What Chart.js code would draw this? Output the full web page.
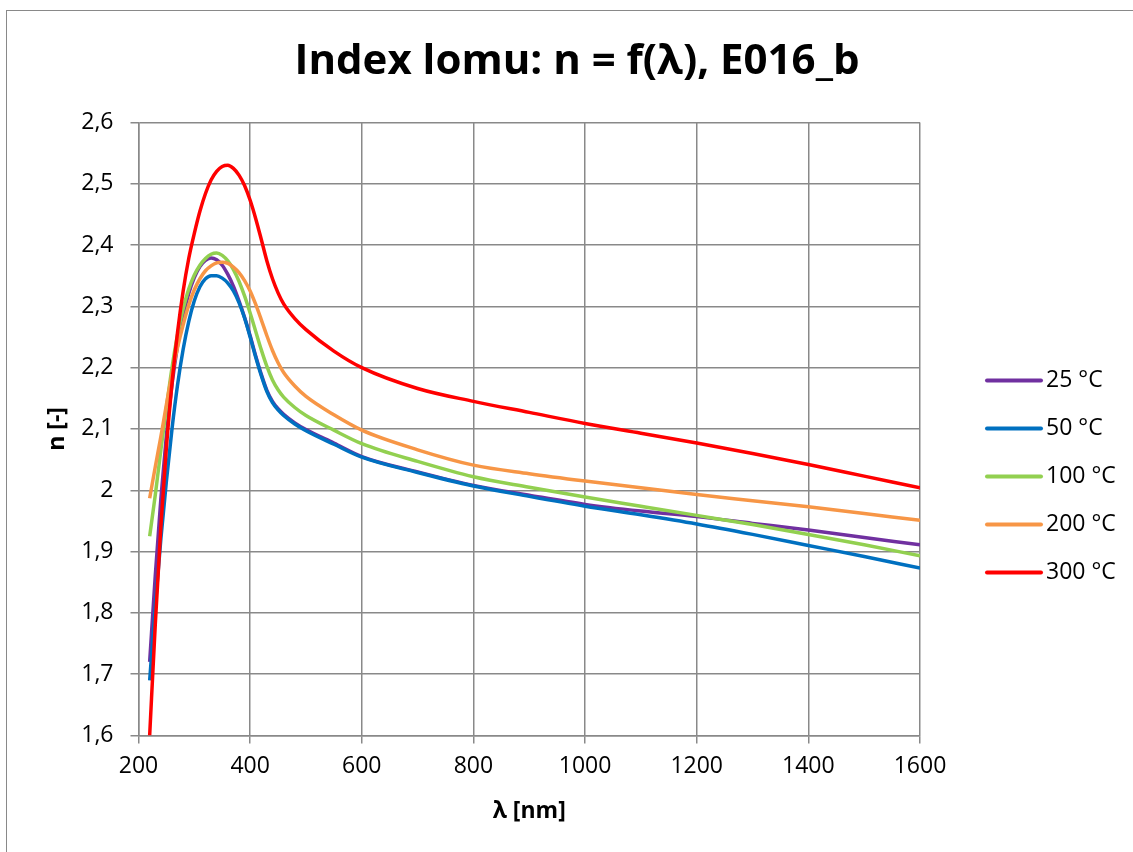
<!DOCTYPE html>
<html lang="cs">
<head>
<meta charset="UTF-8" />
<title>Index lomu</title>
<script src="https://cdn.jsdelivr.net/npm/chart.js"></script>
<style>
  html, body {
    margin: 0;
    padding: 0;
    background: #fff;
    overflow: hidden;
  }
  #frame {
    position: absolute;
    left: 6px;
    top: 10px;
    width: 1140px;
    height: 850px;
    border-left: 1px solid #898989;
    border-top: 1px solid #898989;
  }
  #chart { display: block; }
</style>
</head>
<body>

<div id="frame"><canvas id="chart" width="1140" height="841"></canvas></div>

<script>
// wavelength in nm, shared by all series
var wavelengths = [220, 230, 240, 250, 260, 270, 280, 290, 300, 310,
                   320, 330, 340, 350, 360, 370, 380, 390, 400, 410,
                   420, 430, 440, 450, 460, 480, 500, 550, 600, 700,
                   800, 900, 1000, 1100, 1200, 1300, 1400, 1500, 1600];

var seriesLabels = ["25 °C", "50 °C", "100 °C", "200 °C", "300 °C"];

var n25 = [1.72, 1.86, 1.985, 2.09, 2.172, 2.236, 2.285, 2.321, 2.347, 2.365,
           2.375, 2.379, 2.376, 2.367, 2.352, 2.333, 2.309, 2.282, 2.252, 2.219,
           2.189, 2.163, 2.145, 2.133, 2.124, 2.110, 2.099, 2.077, 2.055, 2.030,
           2.008, 1.992, 1.977, 1.966, 1.957, 1.946, 1.935, 1.923, 1.911];

var n50 = [1.69, 1.81, 1.92, 2.015, 2.10, 2.172, 2.230, 2.275, 2.309, 2.332,
           2.345, 2.350, 2.350, 2.346, 2.338, 2.325, 2.306, 2.281, 2.250, 2.217,
           2.187, 2.161, 2.143, 2.131, 2.122, 2.108, 2.097, 2.075, 2.054, 2.029,
           2.007, 1.990, 1.974, 1.960, 1.945, 1.928, 1.910, 1.892, 1.873];

var n100 = [1.925, 1.992, 2.065, 2.135, 2.200, 2.254, 2.296, 2.328, 2.351, 2.367,
            2.378, 2.385, 2.387, 2.383, 2.374, 2.360, 2.341, 2.317, 2.289, 2.259,
            2.229, 2.202, 2.180, 2.164, 2.152, 2.135, 2.122, 2.098, 2.076, 2.047,
            2.022, 2.005, 1.989, 1.974, 1.959, 1.944, 1.928, 1.911, 1.893];

var n200 = [1.987, 2.038, 2.087, 2.140, 2.190, 2.233, 2.270, 2.302, 2.327, 2.345,
            2.358, 2.366, 2.371, 2.372, 2.370, 2.364, 2.355, 2.342, 2.325, 2.303,
            2.278, 2.252, 2.228, 2.208, 2.192, 2.170, 2.153, 2.123, 2.098, 2.066,
            2.041, 2.027, 2.015, 2.004, 1.993, 1.983, 1.973, 1.962, 1.951];

var n300 = [1.60, 1.78, 1.94, 2.07, 2.175, 2.258, 2.325, 2.378, 2.419, 2.455,
            2.484, 2.506, 2.520, 2.528, 2.530, 2.525, 2.514, 2.497, 2.473, 2.443,
            2.409, 2.374, 2.345, 2.322, 2.304, 2.280, 2.262, 2.227, 2.200, 2.166,
            2.145, 2.127, 2.109, 2.093, 2.077, 2.060, 2.042, 2.023, 2.004];

var seriesColors = ["#7030A0", "#0070C0", "#92D050", "#F79646", "#FF0000"];

var xTickLabels = ["200", "400", "600", "800", "1000", "1200", "1400", "1600"];
var yTickLabels = ["1,6", "1,7", "1,8", "1,9", "2", "2,1", "2,2", "2,3", "2,4", "2,5", "2,6"];

function points(values) {
  return wavelengths.map(function (w, i) { return { x: w, y: values[i] }; });
}

var allSeries = [n25, n50, n100, n200, n300];

var datasets = allSeries.map(function (vals, i) {
  return {
    label: seriesLabels[i],
    data: points(vals),
    borderColor: seriesColors[i],
    backgroundColor: seriesColors[i],
    borderWidth: 3.5,
    pointRadius: 0,
    cubicInterpolationMode: "monotone",
    order: allSeries.length - 1 - i   // last series drawn on top, like Excel
  };
});

// legend drawn on the right, one line + text per series
var sideLegend = {
  id: "sideLegend",
  afterDraw: function (chart) {
    var ctx = chart.ctx;
    var area = chart.chartArea;
    var x0 = area.right + 67;
    var y0 = area.top + 258;
    ctx.save();
    ctx.font = "23px 'Open Sans'";
    ctx.textBaseline = "middle";
    ctx.fillStyle = "#000";
    chart.data.datasets.forEach(function (ds, i) {
      var y = y0 + i * 48;
      ctx.strokeStyle = ds.borderColor;
      ctx.lineWidth = 4;
      ctx.lineCap = "round";
      ctx.beginPath();
      ctx.moveTo(x0, y);
      ctx.lineTo(x0 + 54, y);
      ctx.stroke();
      ctx.fillText(ds.label, x0 + 59, y);
    });
    ctx.restore();
  }
};

Chart.defaults.font.family = "'Open Sans', sans-serif";
Chart.defaults.color = "#000";

var gridColor = "#898989";

new Chart(document.getElementById("chart"), {
  type: "line",
  data: { datasets: datasets },
  plugins: [sideLegend],
  options: {
    responsive: false,
    animation: false,
    layout: { padding: 0 },
    plugins: {
      legend: { display: false },
      tooltip: { enabled: false },
      title: {
        display: true,
        text: "Index lomu: n = f(λ), E016_b",
        font: { size: 42, weight: "bold" },
        color: "#000",
        padding: { top: 26, bottom: 35 }
      }
    },
    scales: {
      x: {
        type: "linear",
        min: 200,
        max: 1600,
        ticks: {
          stepSize: 200,
          font: { size: 23 },
          padding: 9,
          maxRotation: 0,
          callback: function (v, i) {
            return xTickLabels[i] !== undefined ? xTickLabels[i] : String(v);
          }
        },
        grid: { color: gridColor, lineWidth: 1.5, tickLength: 8 },
        border: { color: gridColor, width: 1.5 },
        title: {
          display: true,
          text: "λ [nm]",
          font: { size: 23, weight: "bold" },
          padding: { top: 0, bottom: 27 }
        },
        afterFit: function (scale) { scale.height = 116.5; }
      },
      y: {
        min: 1.6,
        max: 2.6,
        ticks: {
          stepSize: 0.1,
          font: { size: 23 },
          padding: 17,
          callback: function (v, i) {
            return yTickLabels[i] !== undefined ? yTickLabels[i] : String(v).replace(".", ",");
          }
        },
        grid: { color: gridColor, lineWidth: 1.5, tickLength: 8 },
        border: { color: gridColor, width: 1.5 },
        title: {
          display: true,
          text: "n [-]",
          font: { size: 23, weight: "bold" },
          padding: { top: 37, bottom: 0 }
        },
        afterFit: function (scale) { scale.width = 131.5; }
      },
      // empty axis that only reserves the space for the legend
      side: {
        position: "right",
        grid: { display: false },
        border: { display: false },
        ticks: { display: false },
        afterFit: function (scale) { scale.width = 227; }
      }
    }
  }
});
</script>

</body>
</html>
